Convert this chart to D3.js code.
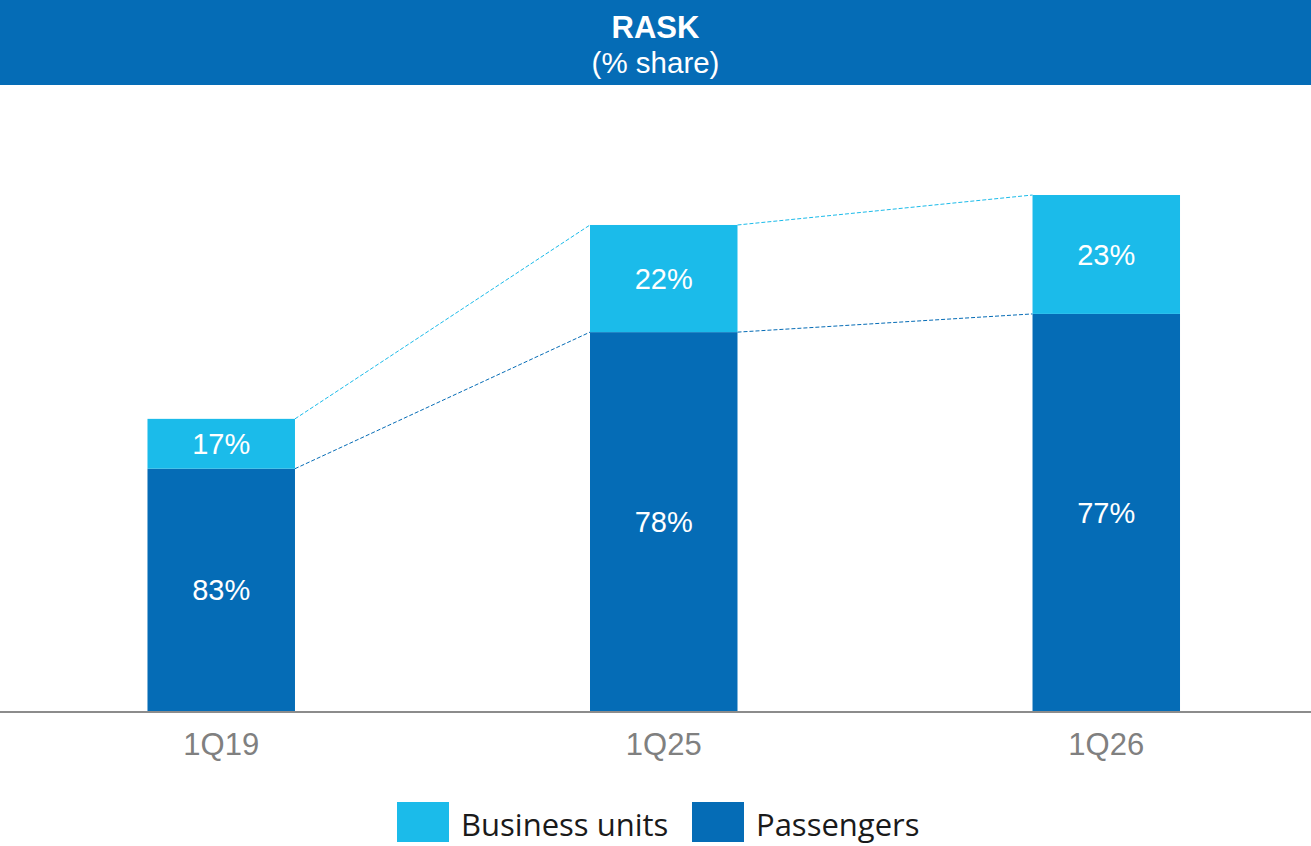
<!DOCTYPE html>
<html>
<head>
<meta charset="utf-8">
<script src="https://cdn.jsdelivr.net/npm/d3@7"></script>
<style>
  html, body { margin: 0; padding: 0; background: #fff; }
  svg { display: block; }
</style>
</head>
<body>
<svg id="chart" width="1311" height="846"></svg>
<script>
// Quarters shown on the x axis
const quarters = ["1Q19", "1Q25", "1Q26"];
// Total RASK per quarter, indexed to 1Q26 = 100
const raskIndex = [56.7, 94.2, 100];
// Share of RASK by source (%)
const passengerShare = [83, 78, 77];
const businessShare = [17, 22, 23];
const seriesNames = ["Business units", "Passengers"];

const W = 1311, H = 846;
const colBusiness = "#1BBBEA";
const colPassenger = "#056CB6";
const arial = "Arial, 'Liberation Sans', sans-serif";

const svg = d3.select("#chart");

// Header band
svg.append("rect").attr("x", 0).attr("y", 0).attr("width", W).attr("height", 85)
  .attr("fill", "#056CB6");
svg.append("text").attr("x", W / 2).attr("y", 38).attr("text-anchor", "middle")
  .attr("font-family", arial).attr("font-weight", "bold")
  .attr("font-size", 31).attr("fill", "#fff").text("RASK");
svg.append("text").attr("x", W / 2).attr("y", 73).attr("text-anchor", "middle")
  .attr("font-family", arial)
  .attr("font-size", 29.5).attr("fill", "#fff").text("(% share)");

// Scales
const x = d3.scaleBand().domain(quarters).range([0, 1327.5])
  .paddingInner(0.6667).paddingOuter(0.3333);
const y = d3.scaleLinear().domain([0, 100]).range([712, 195]);

const rows = quarters.map((q, i) => {
  const pass = raskIndex[i] * passengerShare[i] / 100;
  return {
    q, total: raskIndex[i], pass,
    passShare: passengerShare[i], busShare: businessShare[i]
  };
});

// Dashed connectors between neighbouring bars
const conn = svg.append("g");
for (let i = 0; i < rows.length - 1; i++) {
  const a = rows[i], b = rows[i + 1];
  const x1 = x(a.q) + x.bandwidth(), x2 = x(b.q);
  conn.append("line").attr("x1", x1).attr("x2", x2)
    .attr("y1", y(a.total)).attr("y2", y(b.total))
    .attr("stroke", colBusiness).attr("stroke-width", 1).attr("stroke-dasharray", "4,2");
  conn.append("line").attr("x1", x1).attr("x2", x2)
    .attr("y1", y(a.pass)).attr("y2", y(b.pass))
    .attr("stroke", colPassenger).attr("stroke-width", 1).attr("stroke-dasharray", "4,2");
}

// Stacked bars
const bars = svg.append("g");
rows.forEach(d => {
  bars.append("rect").attr("x", x(d.q)).attr("width", x.bandwidth())
    .attr("y", y(d.pass)).attr("height", y(0) - y(d.pass)).attr("fill", colPassenger);
  bars.append("rect").attr("x", x(d.q)).attr("width", x.bandwidth())
    .attr("y", y(d.total)).attr("height", y(d.pass) - y(d.total)).attr("fill", colBusiness);
  bars.append("text").attr("x", x(d.q) + x.bandwidth() / 2)
    .attr("y", (y(d.pass) + y(0)) / 2).attr("dy", "0.35em").attr("text-anchor", "middle")
    .attr("font-family", arial).attr("font-size", 29)
    .attr("fill", "#fff").text(d.passShare + "%");
  bars.append("text").attr("x", x(d.q) + x.bandwidth() / 2)
    .attr("y", (y(d.total) + y(d.pass)) / 2).attr("dy", "0.35em").attr("text-anchor", "middle")
    .attr("font-family", arial).attr("font-size", 29)
    .attr("fill", "#fff").text(d.busShare + "%");
});

// X axis
const xAxis = svg.append("g").attr("transform", `translate(0,${y(0)})`)
  .call(d3.axisBottom(x).tickSize(0).tickPadding(21));
xAxis.select(".domain").remove();
xAxis.append("line").attr("x1", 0).attr("x2", W).attr("y1", 0).attr("y2", 0)
  .attr("stroke", "#8c8c8c").attr("stroke-width", 2);
xAxis.selectAll(".tick text")
  .attr("font-family", arial).attr("font-size", 31)
  .attr("fill", "#808080");

// Legend
const legendItems = [
  { name: seriesNames[0], color: colBusiness, x: 397 },
  { name: seriesNames[1], color: colPassenger, x: 692 }
];
const legend = svg.append("g");
legendItems.forEach(it => {
  legend.append("rect").attr("x", it.x).attr("y", 802).attr("width", 52).attr("height", 40)
    .attr("fill", it.color);
  legend.append("text").attr("x", it.x + 64).attr("y", 836)
    .attr("font-family", "'Open Sans', 'Noto Sans', sans-serif").attr("font-size", 31)
    .attr("fill", "#1a1a1a").text(it.name);
});
</script>
</body>
</html>
